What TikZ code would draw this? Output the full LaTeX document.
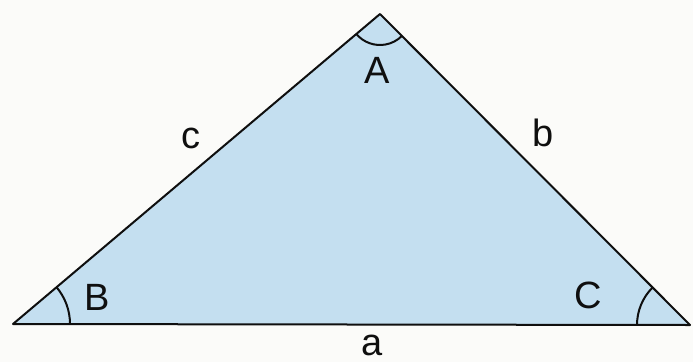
\documentclass[tikz,border=0pt]{standalone}
\usepackage{fontspec}
\setmainfont{Liberation Sans}
\definecolor{paper}{RGB}{251,251,249}
\definecolor{tri}{RGB}{196,223,240}
\definecolor{ink}{RGB}{15,15,15}
\begin{document}
\begin{tikzpicture}[x=1pt,y=-1pt,
  lbl/.style={font=\fontsize{38}{40}\selectfont, text=ink, inner sep=0pt},
  side/.style={draw=ink, line width=2pt, line join=round},
  angarc/.style={draw=ink, line width=2pt}]
\fill[paper] (0,0) rectangle (693,362);
\useasboundingbox (0,0) rectangle (693,362);
\coordinate (B) at (13,324);
\coordinate (A) at (380,14);
\coordinate (C) at (690,325);
\path[fill=tri, side] (B) -- (A) -- (C) -- cycle;
% angle arcs
\draw[angarc] (B) ++(0:57) arc[start angle=0, end angle=-40.2, radius=57];
\draw[angarc] (C) ++(180:53) arc[start angle=180, end angle=224.9, radius=53];
\draw[angarc] (A) ++(139.8:31) arc[start angle=139.8, end angle=45.1, radius=31];
% labels
\node[lbl] (la) at (377,70) {A};
\node[lbl] (lb) at (97,297) {B};
\node[lbl] (lc) at (588,295) {C};
\node[lbl] (sa) at (372,345) {a};
\node[lbl] (sb) at (543,133) {b};
\node[lbl] (sc) at (191,138) {c};
\end{tikzpicture}
\end{document}
